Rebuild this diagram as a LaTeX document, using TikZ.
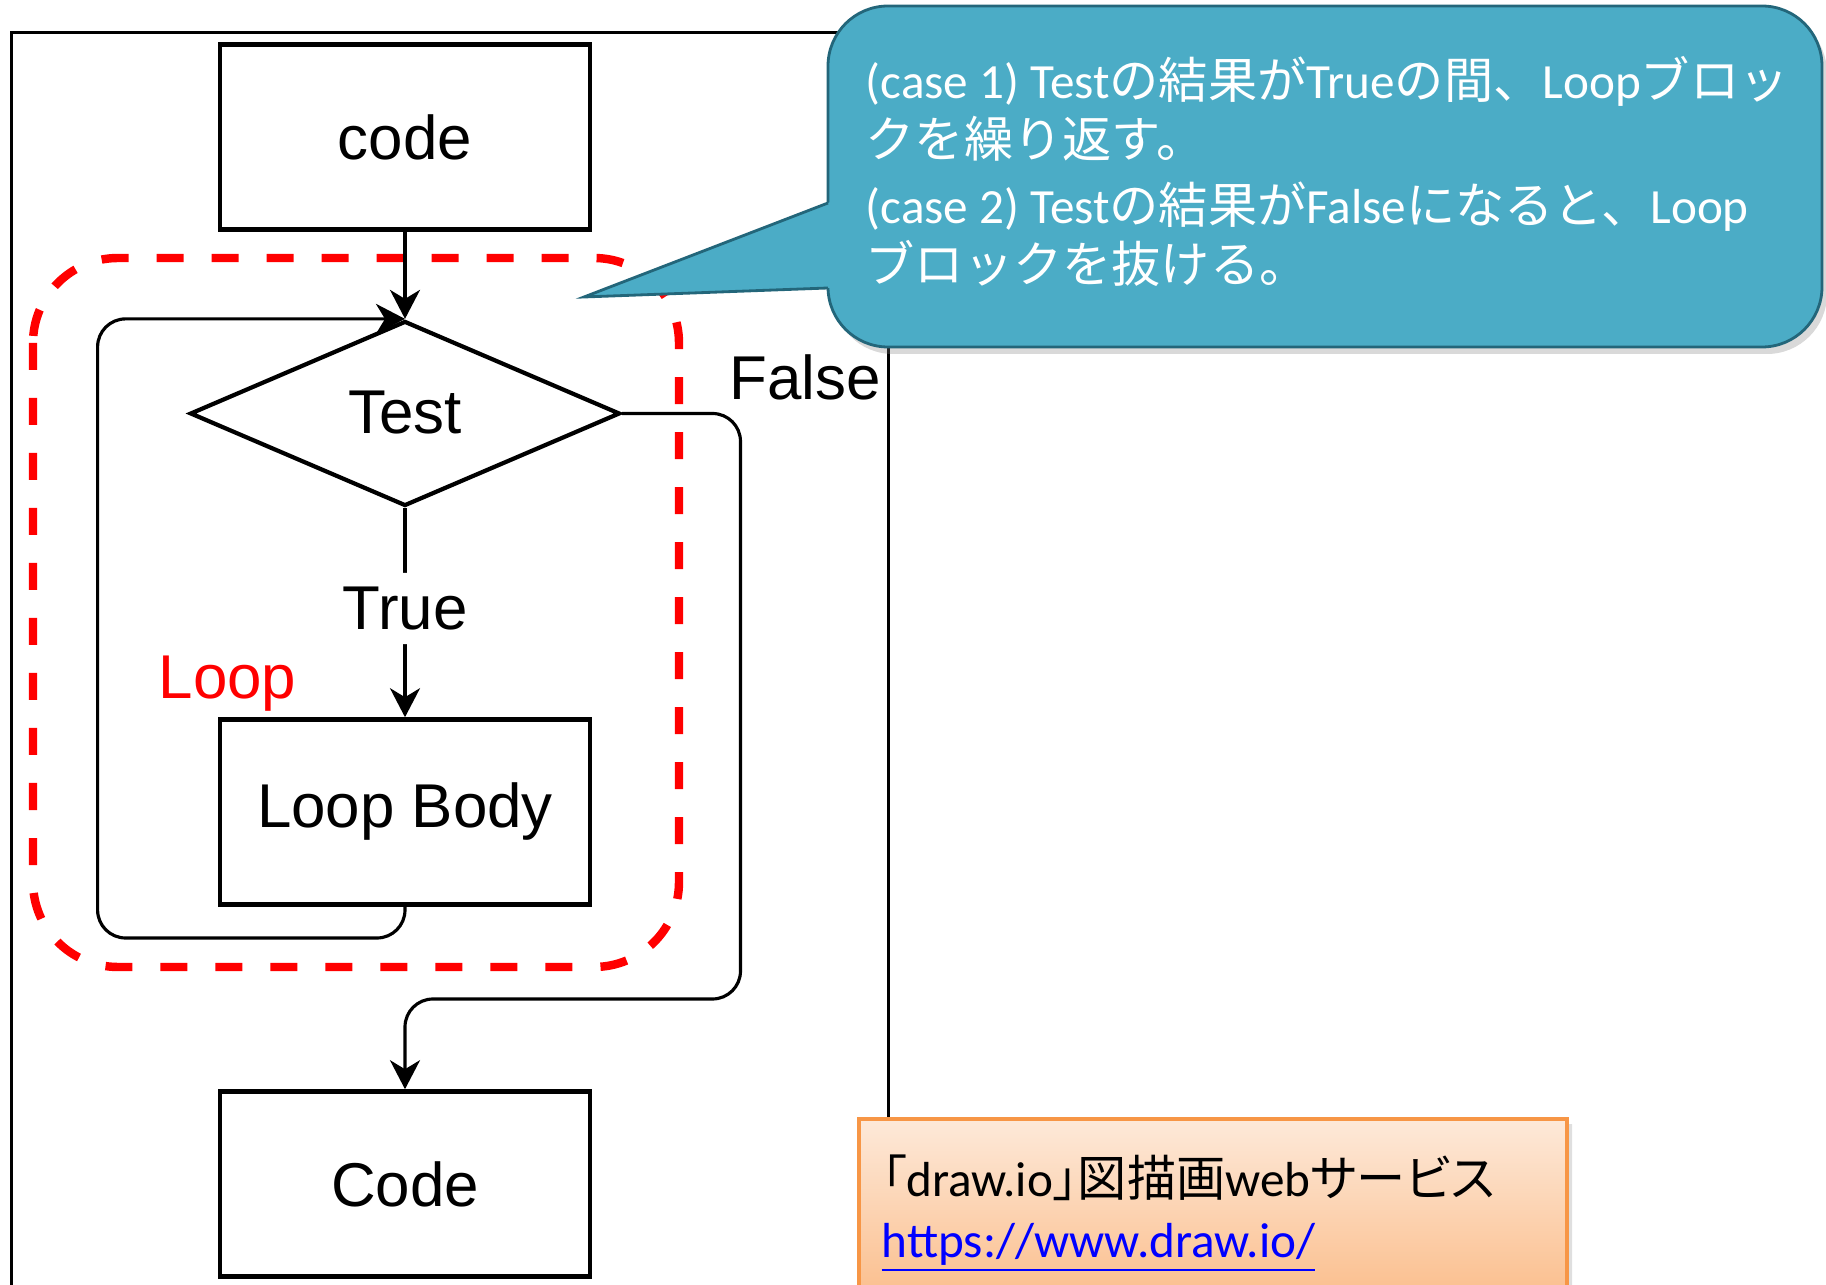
\documentclass[tikz,border=0pt]{standalone}
\usepackage{fontspec}
\setmainfont{Liberation Sans}
\newfontfamily\calfont{Carlito}
\newfontfamily\jpfont{Noto Sans CJK JP}
\newfontfamily\jppfont[RawFeature=+palt]{Noto Sans CJK JP}
\newcommand{\ja}[1]{{\jpfont #1}}
\newcommand{\jap}[1]{{\jppfont #1}}
\usetikzlibrary{arrows.meta,calc,shapes.geometric,shapes.misc,shadows}

\definecolor{bubblefill}{HTML}{4BACC6}
\definecolor{bubbleline}{HTML}{23667A}
\definecolor{notetop}{HTML}{FDE9D9}
\definecolor{notebottom}{HTML}{FBBF8E}
\definecolor{noteline}{HTML}{F79646}

\tikzset{
	blk/.style={draw, line width=1.3pt, minimum width=3.70cm, minimum height=1.85cm, inner sep=0pt, font=\fontsize{17.6}{20}\selectfont},
	cond/.style={diamond, draw, line width=1.2pt, minimum width=4.30cm, minimum height=1.85cm, inner sep=0pt, font=\fontsize{17.6}{20}\selectfont},
	flow/.style={line width=0.9pt, rounded corners=0.28cm, -{Stealth[length=2.9mm,width=3mm,inset=0.9mm]}},
	lbl/.style={inner sep=0pt, font=\fontsize{17.6}{20}\selectfont},
	bubble/.style={draw=bubbleline, fill=bubblefill, line width=0.8pt, rounded corners=0.6cm, minimum width=9.94cm, minimum height=3.41cm,
		drop shadow={shadow xshift=0.05cm, shadow yshift=-0.07cm, opacity=0.3}},
	refbox/.style={chamfered rectangle, chamfered rectangle corners=north east, chamfered rectangle xsep=0.29cm, chamfered rectangle ysep=0.28cm,
		draw=noteline, line width=1pt, top color=notetop, bottom color=notebottom, minimum width=7.08cm, minimum height=1.76cm, inner sep=0pt,
		drop shadow={shadow xshift=0.05cm, shadow yshift=-0.05cm, opacity=0.25}},
	reftext/.style={inner sep=0pt, font=\calfont\fontsize{14}{16.8}\selectfont},
}

\begin{document}
\begin{tikzpicture}
	\clip (0,0) rectangle (18.26,-12.85);
	\useasboundingbox (0,0) rectangle (18.26,-12.85);

	% outer frame
	\draw[line width=0.7pt] (0.115,-13.2) -- (0.115,-0.327) -- (8.886,-0.327) -- (8.886,-13.2);

	% loop region
	\draw[red, line width=2.4pt, rounded corners=0.85cm, dash pattern=on 0.27cm off 0.28cm] (0.33,-2.58) rectangle (6.79,-9.67);

	% flow chart
	\node[blk] (code) at (4.05,-1.37) {code};
	\node[cond] (test) at (4.05,-4.135) {\raisebox{1pt}{Test}};
	\node[blk] (body) at (4.05,-8.12) {Loop Body};
	\node[blk] (final) at (4.05,-11.84) {Code};

	\coordinate (back) at (0.976,-9.38);
	\coordinate (exit) at (7.405,-9.99);

	\draw[flow] (code) -- (test);
	\draw[flow] (test) -- node[lbl, fill=white, inner ysep=4pt, pos=0.48] (yes) {True} (body);
	\draw[flow] (body.south) |- (back) |- (test.north);
	\draw[flow] (test.east) -| (exit) -| (final.north);

	\node[lbl, anchor=base west] (no) at (7.29,-4.00) {False};
	\node[lbl, text=red, anchor=base west] (looplbl) at (1.58,-6.99) {Loop};

	% speech bubble
	\node[bubble] (hint) at (13.25,-1.765) {};
	\coordinate (tip) at (5.84,-2.97);
	\coordinate (pa) at (8.28,-2.03);
	\coordinate (pb) at (8.28,-2.88);
	\fill[bubblefill] (tip) -- ($(tip)!1.06!(pa)$) -- ($(tip)!1.06!(pb)$) -- cycle;
	\draw[bubbleline, line width=0.8pt] (pa) -- (tip) -- (pb);
	% base anchor sits on the last line here
	\node[text=white, align=left, inner sep=0pt, anchor=base west, font=\calfont\fontsize{14}{16.8}\selectfont] (hinttext) at (8.65,-2.83)
		{(case 1) Test\ja{の結果が}True\ja{の間、}Loop\ja{ブロッ}\\
		 \ja{クを繰り返す。}\\[2pt]
		 (case 2) Test\ja{の結果が}False\ja{になると、}Loop\\
		 \ja{ブロックを抜ける。}};

	% reference note
	\node[refbox] (ref) at (12.13,-12.07) {};
	\node[reftext, anchor=base west] (refname) at (8.81,-11.97) {\jap{「}draw.io\jap{」図描画}web\jap{サービス}};
	\node[reftext, anchor=base west, text=blue] (reflink) at (8.81,-12.57) {\underline{https://www.draw.io/}};
\end{tikzpicture}
\end{document}
